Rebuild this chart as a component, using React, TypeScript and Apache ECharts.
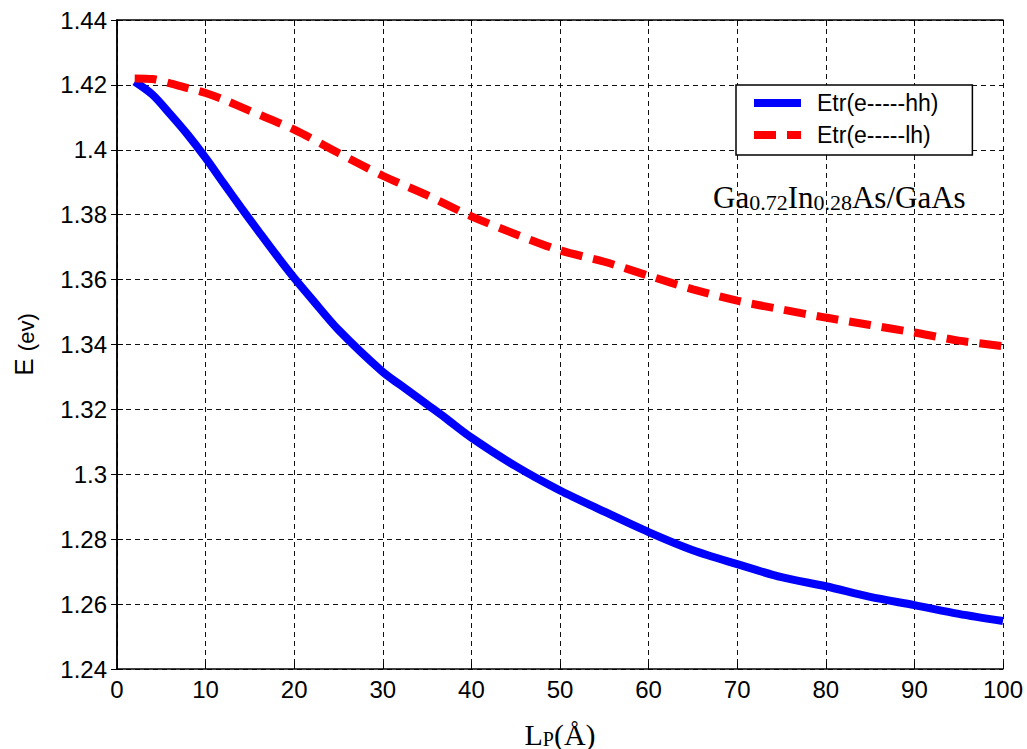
import React, { useEffect, useRef } from "react";
import * as echarts from "echarts";

// ---- data ----
const hhX = [2, 4, 6, 8, 10, 12, 14, 16, 18, 20, 22, 25, 30, 32, 35, 37, 40, 45, 50, 55, 60, 65, 70, 75, 80, 85, 90, 95, 100];
const hhY = [1.421, 1.417, 1.411, 1.4046, 1.3975, 1.3898, 1.3822, 1.3748, 1.3675, 1.3605, 1.354, 1.3445, 1.3315, 1.3275, 1.3215, 1.3175, 1.3113, 1.3025, 1.295, 1.2885, 1.2822, 1.2766, 1.2723, 1.2683, 1.2655, 1.2622, 1.2597, 1.257, 1.2548];

const lhX = [2, 4, 6, 8, 10, 12, 15, 20, 25, 30, 35, 40, 45, 50, 55, 60, 65, 70, 75, 80, 85, 90, 95, 100];
const lhY = [1.422, 1.4218, 1.4205, 1.419, 1.4175, 1.4155, 1.412, 1.4062, 1.399, 1.392, 1.386, 1.3795, 1.374, 1.369, 1.3655, 1.3612, 1.357, 1.3535, 1.3508, 1.3483, 1.346, 1.3437, 1.3412, 1.3395];

const seriesNames = ["Etr(e-----hh)", "Etr(e-----lh)"];
const xRange = { min: 0, max: 100, interval: 10 };
const yRange = { min: 1.24, max: 1.44, interval: 0.02 };

const SANS = "'Liberation Sans', Arial, sans-serif";
const SERIF = "'Liberation Serif', 'Times New Roman', serif";

export default function App() {
  const ref = useRef<HTMLDivElement>(null);

  useEffect(() => {
    if (!ref.current) return;
    const chart = echarts.init(ref.current, undefined, { renderer: "svg" });

    const gridLine = { show: true, lineStyle: { color: "#111", width: 1, type: [5, 4] as any } };
    const axisLine = { show: true, lineStyle: { color: "#000", width: 1.5 } };
    const tick = { show: true, inside: true, length: 6, lineStyle: { color: "#000", width: 1 } };
    const labelStyle = { color: "#000", fontSize: 24, fontFamily: SANS };

    const option: any = {
      animation: false,
      backgroundColor: "#fff",
      grid: { left: 117, top: 20, right: 24, bottom: 80, containLabel: false, outerBoundsMode: "none" },
      legend: {
        show: true,
        orient: "vertical",
        left: 736,
        top: 85,
        padding: [5, 34, 7, 14],
        itemWidth: 47,
        itemHeight: 14,
        itemGap: 6,
        backgroundColor: "#fff",
        borderColor: "#000",
        borderWidth: 1.5,
        borderRadius: 0,
        itemStyle: { opacity: 0 },
        lineStyle: { width: 8 },
        textStyle: { color: "#000", fontSize: 23, fontFamily: SANS, lineHeight: 26, padding: [0, 0, 0, 11] },
        data: seriesNames,
      },
      xAxis: [
        {
          type: "value",
          ...xRange,
          position: "bottom",
          axisLine,
          axisTick: tick,
          splitLine: gridLine,
          axisLabel: { ...labelStyle, margin: 8 },
          name: "{a|L}{b|P}{a|(Å)}",
          nameLocation: "middle",
          nameGap: 46,
          nameTextStyle: {
            rich: {
              a: { fontSize: 30, fontFamily: SERIF, color: "#000", lineHeight: 34, verticalAlign: "bottom" },
              b: { fontSize: 20, fontFamily: SERIF, color: "#000", lineHeight: 27, verticalAlign: "bottom" },
            },
          },
        },
        {
          type: "value",
          ...xRange,
          position: "top",
          axisLine,
          axisTick: tick,
          splitLine: { show: false },
          axisLabel: { show: false },
        },
      ],
      yAxis: [
        {
          type: "value",
          ...yRange,
          position: "left",
          axisLine,
          axisTick: tick,
          splitLine: gridLine,
          axisLabel: {
            ...labelStyle,
            margin: 10,
            formatter: (v: number) => String(parseFloat(v.toFixed(2))),
          },
          name: "{a|E }{b|(ev)}",
          nameLocation: "middle",
          nameRotate: 90,
          nameGap: 80,
          nameTextStyle: {
            rich: {
              a: { fontSize: 26, fontFamily: SANS, color: "#000", lineHeight: 30, verticalAlign: "bottom" },
              b: { fontSize: 22, fontFamily: SANS, color: "#000", lineHeight: 28, verticalAlign: "bottom" },
            },
          },
        },
        {
          type: "value",
          ...yRange,
          position: "right",
          axisLine,
          axisTick: tick,
          splitLine: { show: false },
          axisLabel: { show: false },
        },
      ],
      graphic: [
        {
          type: "text",
          left: 713,
          top: 182,
          style: {
            text: "{m|Ga}{s|0.72}{m|In}{s|0.28}{m|As/GaAs}",
            rich: {
              m: { fontSize: 31, fontFamily: SERIF, fill: "#000", lineHeight: 34, verticalAlign: "bottom" },
              s: { fontSize: 22, fontFamily: SERIF, fill: "#000", lineHeight: 21, verticalAlign: "bottom" },
            },
          },
        },
      ],
      series: [
        {
          name: seriesNames[0],
          type: "line",
          xAxisIndex: 0,
          yAxisIndex: 0,
          data: hhX.map((x, i) => [x, hhY[i]]),
          symbol: "none",
          smooth: 0.3,
          lineStyle: { color: "#0000ff", width: 8 },
          itemStyle: { color: "#0000ff" },
          z: 3,
        },
        {
          name: seriesNames[1],
          type: "line",
          xAxisIndex: 0,
          yAxisIndex: 0,
          data: lhX.map((x, i) => [x, lhY[i]]),
          symbol: "none",
          smooth: 0.3,
          lineStyle: { color: "#ff0000", width: 8, type: [22, 11] },
          itemStyle: { color: "#ff0000" },
          z: 3,
        },
      ],
    };

    chart.setOption(option);
    return () => chart.dispose();
  }, []);

  return (
    <div
      ref={ref}
      style={{ position: "absolute", left: 0, top: 0, width: 1027, height: 749, background: "#fff" }}
    />
  );
}
